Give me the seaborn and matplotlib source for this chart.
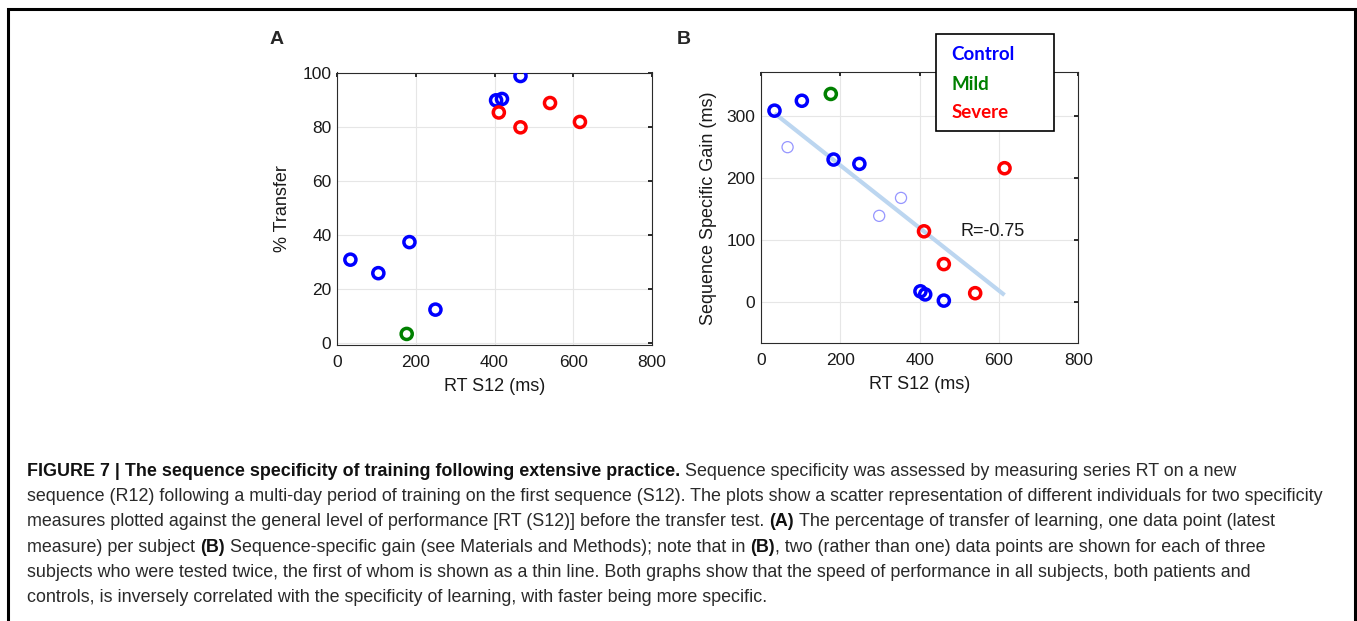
import numpy as np
import pandas as pd
import matplotlib
matplotlib.use("Agg")
import matplotlib.pyplot as plt
import seaborn as sns
from matplotlib.patches import Rectangle

# ---------------- data ----------------
groups = ["Control", "Mild", "Severe"]
group_colors = ["#0000ff", "#008000", "#ff0000"]
first_test_color = "#9696ff"
fit_color = "#bcd6f0"

# Panel A: % transfer vs RT S12
a_rt = [34, 105, 184, 250, 404, 419, 466, 177, 411, 466, 541, 617]
a_transfer = [31, 26, 37.5, 12.5, 90, 90.5, 99, 3.5, 85.5, 80, 89, 82]
a_group = ["Control"] * 7 + ["Mild"] + ["Severe"] * 4

# Panel B: sequence specific gain vs RT S12
b_rt = [34, 103, 183, 248, 402, 414, 461, 176, 411, 461, 540, 614]
b_gain = [309, 325, 230, 223, 17, 12, 2, 336, 114, 61, 14, 216]
b_group = ["Control"] * 7 + ["Mild"] + ["Severe"] * 4
# first test of subjects tested twice (thin circles)
b_first_rt = [67, 298, 353]
b_first_gain = [250, 139, 168]

r_text = "R=-0.75"
x_ticks = [0, 200, 400, 600, 800]
a_yticks = [0, 20, 40, 60, 80, 100]
b_yticks = [0, 100, 200, 300]

caption_lines = [
    [("FIGURE 7 | The sequence specificity of training following extensive practice.", True),
     ("Sequence specificity was assessed by measuring series RT on a new", False)],
    [("sequence (R12) following a multi-day period of training on the first sequence (S12). The plots show a scatter representation of different individuals for two specificity", False)],
    [("measures plotted against the general level of performance [RT (S12)] before the transfer test.", False),
     ("(A)", True),
     ("The percentage of transfer of learning, one data point (latest", False)],
    [("measure) per subject", False), ("(B)", True),
     ("Sequence-specific gain (see Materials and Methods); note that in", False),
     ("(B)", True), (", two (rather than one) data points are shown for each of three", False)],
    [("subjects who were tested twice, the first of whom is shown as a thin line. Both graphs show that the speed of performance in all subjects, both patients and", False)],
    [("controls, is inversely correlated with the specificity of learning, with faster being more specific.", False)],
]

dfA = pd.DataFrame({"rt": a_rt, "val": a_transfer, "group": a_group})
dfB = pd.DataFrame({"rt": b_rt, "val": b_gain, "group": b_group})
dfB1 = pd.DataFrame({"rt": b_first_rt, "val": b_first_gain})
dfB_all = pd.concat([dfB[["rt", "val"]], dfB1], ignore_index=True)

# ---------------- style ----------------
sns.set_style("white")
FONT = ["Liberation Sans", "DejaVu Sans"]
plt.rcParams["font.family"] = FONT

W, H = 1357, 621
fig = plt.figure(figsize=(W / 100, H / 100), dpi=100)


def px_axes(l, t, r, b):
    return fig.add_axes([l / W, 1 - b / H, (r - l) / W, (b - t) / H])


axA = px_axes(337, 72.5, 652, 345)
axB = px_axes(761, 72.3, 1078.3, 343.3)
palette = dict(zip(groups, group_colors))


def hollow(ax, start, lw, colors=None):
    for coll in ax.collections[start:]:
        fc = coll.get_facecolors()
        coll.set_edgecolors(fc if colors is None else colors)
        coll.set_facecolors("none")
        coll.set_linewidths(lw)


def style(ax, yticks, ylim):
    ax.set_xlim(0, 800)
    ax.set_ylim(*ylim)
    ax.set_xticks(x_ticks)
    ax.set_yticks(yticks)
    ax.grid(True, color="#e6e6e6", lw=0.8)
    ax.set_axisbelow(True)
    for s in ax.spines.values():
        s.set_visible(True)
        s.set_color("#2b2b2b")
        s.set_linewidth(0.8)
    ax.tick_params(axis="both", direction="in", length=3, width=1.3,
                   top=True, right=True, labelsize=12.5, colors="#1a1a1a")
    ax.tick_params(axis="x", pad=7)
    ax.tick_params(axis="y", pad=4)
    ax.set_xlabel("RT S12 (ms)", fontsize=13, labelpad=6, color="#1a1a1a")


# Panel A
n0 = len(axA.collections)
sns.scatterplot(data=dfA, x="rt", y="val", hue="group", palette=palette,
                s=64, marker="o", legend=False, ax=axA, zorder=3)
hollow(axA, n0, 2.5)
style(axA, a_yticks, (-0.6, 100.3))
axA.set_ylabel("% Transfer", fontsize=13, labelpad=8, color="#1a1a1a")

# Panel B
sns.regplot(data=dfB_all, x="rt", y="val", scatter=False, ci=None,
            color=fit_color, line_kws=dict(lw=3, solid_capstyle="butt"), ax=axB)
n0 = len(axB.collections)
sns.scatterplot(data=dfB1, x="rt", y="val", color=first_test_color, s=64,
                marker="o", legend=False, ax=axB, zorder=3)
hollow(axB, n0, 0.9)
n0 = len(axB.collections)
sns.scatterplot(data=dfB, x="rt", y="val", hue="group", palette=palette,
                s=64, marker="o", legend=False, ax=axB, zorder=4)
hollow(axB, n0, 2.5)
style(axB, b_yticks, (-67, 371))
axB.set_ylabel("Sequence Specific Gain (ms)", fontsize=13, labelpad=7, color="#1a1a1a")
axB.text(504, 113, r_text, fontsize=13, va="center", ha="left", color="#1a1a1a")

# panel letters
fig.text(277 / W, 1 - 39 / H, "A", fontsize=14, weight="bold", ha="center", va="center")
fig.text(684 / W, 1 - 39 / H, "B", fontsize=14, weight="bold", ha="center", va="center")

# group key box
box = Rectangle((935.7 / W, 1 - 130.7 / H), (1054.3 - 935.7) / W, (130.7 - 34.3) / H,
                transform=fig.transFigure, fill=True, facecolor="white",
                edgecolor="black", lw=1.2, zorder=5)
fig.patches.append(box)
for i, (g, c) in enumerate(zip(groups, group_colors)):
    fig.text(951.5 / W, 1 - (55 + 29 * i) / H, g, color=c, fontsize=13.5,
             weight="bold", family=["Lato", "DejaVu Sans"], va="center", ha="left", zorder=6)

# outer frame
frame = Rectangle((8 / W, -0.05), (1355 - 8) / W, 1.05 - 9 / H,
                  transform=fig.transFigure, fill=False, edgecolor="black", lw=2.2)
fig.patches.append(frame)

# ---------------- caption ----------------
renderer = fig.canvas.get_renderer()
CAP_FONT = ["Liberation Sans Narrow", "Liberation Sans", "DejaVu Sans"]


def tw(s, size, bold):
    t = fig.text(0, 0, s, fontsize=size, weight="bold" if bold else "normal", family=CAP_FONT)
    w = t.get_window_extent(renderer).width
    t.remove()
    return w


probe = 10.0
target = 1303.0
size = probe * target / tw(caption_lines[1][0][0], probe, False)
space = tw("a a", size, False) - tw("aa", size, False)

y0, dy = 476, 25.2
for i, segs in enumerate(caption_lines):
    x = 27.0
    for j, (s, bold) in enumerate(segs):
        if j > 0 and not s.startswith(","):
            x += space
        fig.text(x / W, 1 - (y0 + dy * i) / H, s, fontsize=size,
                 weight="bold" if bold else "normal", family=CAP_FONT,
                 color="#111111" if bold else "#2a2a2a", va="baseline", ha="left")
        x += tw(s, size, bold)

fig.savefig("out.png", dpi=100)
